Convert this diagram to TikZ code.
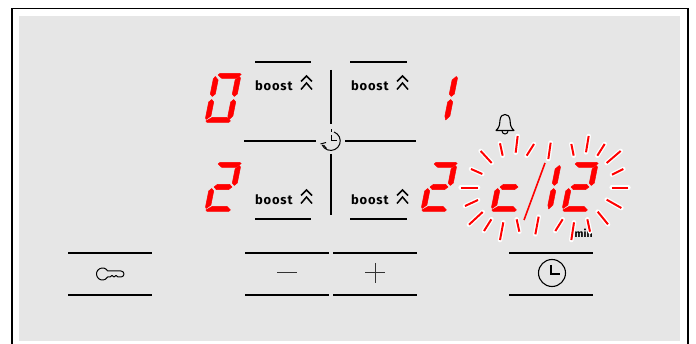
\documentclass[tikz,border=0pt]{standalone}
\usepackage{fontspec}
\setmainfont{Fira Sans}
\newfontfamily\boostfont[LetterSpace=6]{Fira Sans}
\definecolor{panel}{HTML}{E6E6E6}
\definecolor{segred}{HTML}{FF0000}
\tikzset{
  every picture/.style={x=1pt,y=-1pt},
  framel/.style={line width=1.4pt,black},
  barl/.style={line width=1.5pt,black},
  symb/.style={line width=1.1pt,black},
  boostlabel/.style={inner sep=0pt,font=\boostfont\bfseries\fontsize{13}{14}\selectfont,anchor=base west},
  chev/.style={line width=1.5pt,black,line join=miter},
  seg/.style={fill=segred,draw=segred,line width=0.5pt,line join=round},
  rayhalo/.style={line width=4.6pt,white,line cap=round},
  rayred/.style={line width=2pt,segred}
}
\newcommand{\segA}{\path[seg] (6,-49.5) -- (26,-49.5) -- (27.5,-48.5) -- (23,-44.5) -- (9,-44.5) -- (4.5,-48) -- cycle;}
\newcommand{\segG}{\path[seg] (5,-25) -- (8,-27.7) -- (20,-27.7) -- (23,-25) -- (20,-22.3) -- (8,-22.3) -- cycle;}
\newcommand{\segD}{\path[seg] (1.5,-2) -- (3,-0.5) -- (24.5,-0.5) -- (26,-2) -- (22,-5.5) -- (7,-5.5) -- cycle;}
\newcommand{\segB}{\path[seg] (25,-26.5) -- (27.5,-29) -- (27.5,-45) -- (26,-46.5) -- (22.5,-43) -- (22.5,-29) -- cycle;}
\newcommand{\segC}{\path[seg] (25,-23.5) -- (27.5,-21) -- (27.5,-7) -- (24,-3) -- (22.5,-7) -- (22.5,-21) -- cycle;}
\newcommand{\segE}{\path[seg] (3,-23.5) -- (5.5,-21) -- (5.5,-7) -- (1.5,-3.5) -- (0.5,-5) -- (0.5,-21) -- cycle;}
\newcommand{\segF}{\path[seg] (3,-26.5) -- (0.5,-29) -- (0.5,-44) -- (2,-46.5) -- (5.5,-43) -- (5.5,-29) -- cycle;}
\newcommand{\digitat}[3]{\begin{scope}[shift={(#1,#2)},xslant=0.2]#3\end{scope}}
\newcommand{\boostat}[2]{%
  \node[boostlabel] (boost#1#2) at (#1,#2) {boost};
  \draw[chev] (#1+46,#2-9.5) -- (#1+51.5,#2-15) -- (#1+57,#2-9.5);
  \draw[chev] (#1+46,#2-1.5) -- (#1+51.5,#2-8) -- (#1+57,#2-1.5);
}
\begin{document}
\begin{tikzpicture}
\useasboundingbox (0,0) rectangle (696,344);
\fill[panel] (19,16) rectangle (680,341);
\draw[framel] (12,344) -- (12,8.5) -- (688,8.5) -- (688,344);
% zone bars
\draw[barl] (255,62) -- (311,62);
\draw[barl] (350,62) -- (407,62);
\draw[barl] (255,219) -- (311,219);
\draw[barl] (350,219) -- (407,219);
\draw[barl] (331,70) -- (331,124);
\draw[barl] (331,154) -- (331,215);
\draw[barl] (244,141) -- (316,141);
\draw[barl] (345,141) -- (416,141);
% boost
\boostat{255}{91}
\boostat{351}{91}
\boostat{255}{205}
\boostat{351}{205}
% central timer
\coordinate (tc) at (331,141);
\draw[line width=1pt,black] (331,135) -- (tc) -- (337,141);
\draw[line width=1pt,black] (331,129.5) -- (331,132.5);
\draw[line width=1pt,black] (334,132) arc[start angle=-70,end angle=155,radius=9.5];
\draw[line width=1pt,black] (320.5,144) -- (326,142.5);
\draw[line width=1pt,black] (323.5,145) -- (326.5,148.5);
% bottom buttons
\foreach \xa/\xb in {68/152,245/329,333/417,509/593}{
  \draw[barl] (\xa,253) -- (\xb,253);
  \draw[barl] (\xa,295) -- (\xb,295);
}
\draw[line width=1pt,black!80] (277,273) -- (297,273);
\draw[line width=1pt,black!80] (365,273) -- (385,273);
\draw[line width=1pt,black!80] (375,263) -- (375,283);
% key
\draw[line width=1pt,black,line join=round] (107.7,271) arc[start angle=-30,end angle=-330,radius=6] -- (110,277) -- (112,275.5) -- (114,277) -- (116,275.5) -- (118,277) -- (121,277) arc[start angle=90,end angle=-90,radius=3] -- cycle;
% clock
\draw[symb] (552,273) circle[radius=13.5];
\draw[symb] (551,265) -- (551,274) -- (560,274);
% bell
\draw[line width=1.1pt,black,line join=round] (496,130.5) .. controls (500,127) and (499.5,124) .. (500,120) .. controls (500.5,116) and (502.5,114.5) .. (505,114.5) .. controls (507.5,114.5) and (509.5,116) .. (510,120) .. controls (510.5,124) and (510,127) .. (514,130.5) -- cycle;
\draw[line width=1pt,black] (502,131) arc[start angle=180,end angle=0,radius=3];
% digits
\digitat{204}{123}{\segA\segB\segC\segD\segE\segF}
\digitat{421}{123}{\segB\segC}
\digitat{204}{212}{\segA\segB\segG\segE\segD}
\digitat{420}{212}{\segA\segB\segG\segE\segD}
% min label
\node[inner sep=0pt,font=\bfseries\fontsize{10.5}{11}\selectfont,anchor=base west] (minlabel) at (574.5,238) {min};
% rays
\foreach \xa/\ya/\xb/\yb in {
 270/130/278/167, 323/108/317/158, 372/132/350/167, 422/128/415/177,
 484/132/491/167, 536/108/528/157, 584/132/562/167, 632/153/590/189,
 640/207/606/224, 655/263/605/263, 634/324/590/299, 594/373/563/335,
 532/358/540/395, 492/367/484/420, 458/358/436/393, 386/350/376/403,
 320/358/328/395, 280/367/270/420, 244/358/222/393, 218/336/177/374,
 204/300/165/318, 204/263/152/263, 217/222/183/207, 245/189/212/153}{
  \coordinate (ra) at ({410+\xa/3},{100+\ya/3});
  \coordinate (rb) at ({410+\xb/3},{100+\yb/3});
  \draw[rayhalo] (ra) -- (rb);
  \draw[rayred] (ra) -- (rb);
}
% blinking display
\digitat{490}{212}{\segG\segE\segD}
\digitat{524}{212}{\segB\segC}
\digitat{561}{212}{\segA\segB\segG\segE\segD}
\draw[line width=1.6pt,segred] (545,163) -- (524,220);
\end{tikzpicture}
\end{document}
